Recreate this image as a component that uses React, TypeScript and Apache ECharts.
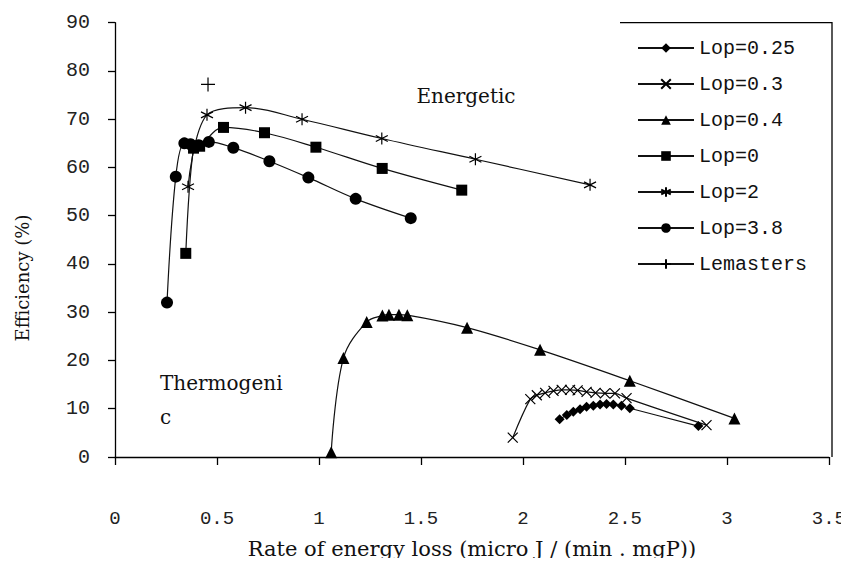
import React, { useEffect, useRef } from "react";
import * as echarts from "echarts";

// x: rate of energy loss, y: efficiency (%)
const lop025X = [2.18, 2.215, 2.247, 2.28, 2.312, 2.345, 2.378, 2.41, 2.443, 2.483, 2.524, 2.86];
const lop025Y = [7.8, 8.7, 9.4, 9.9, 10.4, 10.6, 10.9, 11.0, 10.9, 10.6, 10.1, 6.4];

const lop03X = [1.95, 2.036, 2.068, 2.109, 2.15, 2.19, 2.231, 2.268, 2.312, 2.356, 2.402, 2.451, 2.508, 2.9];
const lop03Y = [4.0, 12.0, 12.8, 13.3, 13.7, 13.9, 13.9, 13.8, 13.5, 13.3, 13.2, 13.2, 12.2, 6.6];

const lop04X = [1.06, 1.12, 1.234, 1.311, 1.343, 1.392, 1.433, 1.726, 2.084, 2.524, 3.037];
const lop04Y = [1.0, 20.5, 28.0, 29.3, 29.5, 29.5, 29.4, 26.8, 22.2, 15.8, 8.0];

const lop0X = [0.347, 0.385, 0.415, 0.532, 0.733, 0.985, 1.31, 1.7];
const lop0Y = [42.2, 64.0, 64.4, 68.3, 67.2, 64.2, 59.8, 55.3];

const lop2X = [0.358, 0.451, 0.64, 0.917, 1.308, 1.767, 2.329];
const lop2Y = [56.0, 70.9, 72.4, 70.0, 66.0, 61.7, 56.4];

const lop38X = [0.255, 0.298, 0.34, 0.37, 0.41, 0.46, 0.58, 0.757, 0.948, 1.18, 1.45];
const lop38Y = [32.0, 58.1, 65.0, 64.8, 64.6, 65.3, 64.1, 61.3, 57.9, 53.5, 49.5];

const lemastersX = [0.456];
const lemastersY = [77.2];

const seriesNames = ["Lop=0.25", "Lop=0.3", "Lop=0.4", "Lop=0", "Lop=2", "Lop=3.8", "Lemasters"];

const xTicks = { min: 0, max: 3.5, interval: 0.5 };
const yTicks = { min: 0, max: 90, interval: 10 };

const zip = (xs: number[], ys: number[]) => xs.map((x, i) => [x, ys[i]]);

const CROSS = "path://M0,0L10,10M10,0L0,10";
const STAR = "path://M5,0L5,10M0.7,2.5L9.3,7.5M0.7,7.5L9.3,2.5";
const PLUS = "path://M5,0L5,10M0,5L10,5";

export default function App() {
  const ref = useRef<HTMLDivElement>(null);

  useEffect(() => {
    if (!ref.current) return;
    const chart = echarts.init(ref.current, null, { renderer: "svg" });

    const lineStyle = { color: "#111", width: 1.2 };
    const mk = (
      name: string,
      data: number[][],
      symbol: string,
      symbolSize: number,
      stroke: boolean
    ) => ({
      name,
      type: "line",
      data,
      symbol,
      symbolSize,
      smooth: 0.35,
      showAllSymbol: true,
      lineStyle,
      itemStyle: stroke
        ? { color: "#000", borderColor: "#000", borderWidth: 1.2 }
        : { color: "#000", borderWidth: 0 },
      emphasis: { disabled: true },
      z: 3,
    });

    const option = {
      animation: false,
      backgroundColor: "#fff",
      grid: { left: 115, right: 17, top: 22.7, bottom: 109, containLabel: false },
      xAxis: {
        type: "value",
        min: xTicks.min,
        max: xTicks.max,
        interval: xTicks.interval,
        name: "Rate of energy loss (micro J / (min . mgP))",
        nameLocation: "middle",
        nameGap: 81,
        nameTextStyle: { fontFamily: "DejaVu Serif", fontSize: 21, color: "#111" },
        axisLine: { show: true, lineStyle: { color: "#000", width: 1.3 } },
        axisTick: { show: true, length: 8, lineStyle: { color: "#000", width: 1.3 } },
        axisLabel: {
          margin: 52,
          fontFamily: "Liberation Mono",
          fontSize: 19,
          color: "#222",
          formatter: (v: number) => String(v),
        },
        splitLine: { show: false },
      },
      yAxis: {
        type: "value",
        min: yTicks.min,
        max: yTicks.max,
        interval: yTicks.interval,
        axisLine: { show: true, lineStyle: { color: "#000", width: 1.3 } },
        axisTick: { show: true, length: 7, lineStyle: { color: "#000", width: 1.3 } },
        axisLabel: {
          margin: 25,
          fontFamily: "Liberation Mono",
          fontSize: 20,
          color: "#222",
        },
        splitLine: { show: false },
      },
      legend: {
        orient: "vertical",
        left: 632,
        top: 33,
        itemWidth: 56,
        itemHeight: 12,
        itemGap: 16,
        data: seriesNames,
        textStyle: {
          fontFamily: "Liberation Mono",
          fontSize: 20,
          lineHeight: 20,
          color: "#111",
          padding: [0, 0, 0, 0],
        },
        selectedMode: false,
      },
      graphic: [
        {
          type: "polyline",
          shape: { points: [[620, 22.7], [832, 22.7], [832, 457]] },
          style: { stroke: "#000", lineWidth: 1.3, fill: "none" },
          silent: true,
        },
        {
          type: "text",
          x: 466,
          y: 96,
          style: {
            text: "Energetic",
            fontFamily: "DejaVu Serif",
            fontSize: 20,
            fill: "#111",
            align: "center",
            verticalAlign: "middle",
          },
        },
        {
          type: "text",
          x: 160,
          y: 383,
          style: {
            text: "Thermogeni",
            fontFamily: "DejaVu Serif",
            fontSize: 20,
            fill: "#111",
            align: "left",
            verticalAlign: "middle",
          },
        },
        {
          type: "text",
          x: 160,
          y: 417,
          style: {
            text: "c",
            fontFamily: "DejaVu Serif",
            fontSize: 20,
            fill: "#111",
            align: "left",
            verticalAlign: "middle",
          },
        },
        {
          type: "text",
          x: 22,
          y: 278,
          rotation: Math.PI / 2,
          style: {
            text: "Efficiency (%)",
            fontFamily: "DejaVu Serif",
            fontSize: 18,
            fill: "#111",
            align: "center",
            verticalAlign: "middle",
          },
        },
      ],
      series: [
        mk("Lop=0.25", zip(lop025X, lop025Y), "diamond", 10, false),
        mk("Lop=0.3", zip(lop03X, lop03Y), CROSS, 10, true),
        mk("Lop=0.4", zip(lop04X, lop04Y), "triangle", 12, false),
        mk("Lop=0", zip(lop0X, lop0Y), "rect", 11, false),
        mk("Lop=2", zip(lop2X, lop2Y), STAR, 12, true),
        mk("Lop=3.8", zip(lop38X, lop38Y), "circle", 12, false),
        mk("Lemasters", zip(lemastersX, lemastersY), PLUS, 14, true),
      ],
    };

    chart.setOption(option as any);
    return () => chart.dispose();
  }, []);

  return <div ref={ref} style={{ width: 849, height: 566, margin: -8 }} />;
}
